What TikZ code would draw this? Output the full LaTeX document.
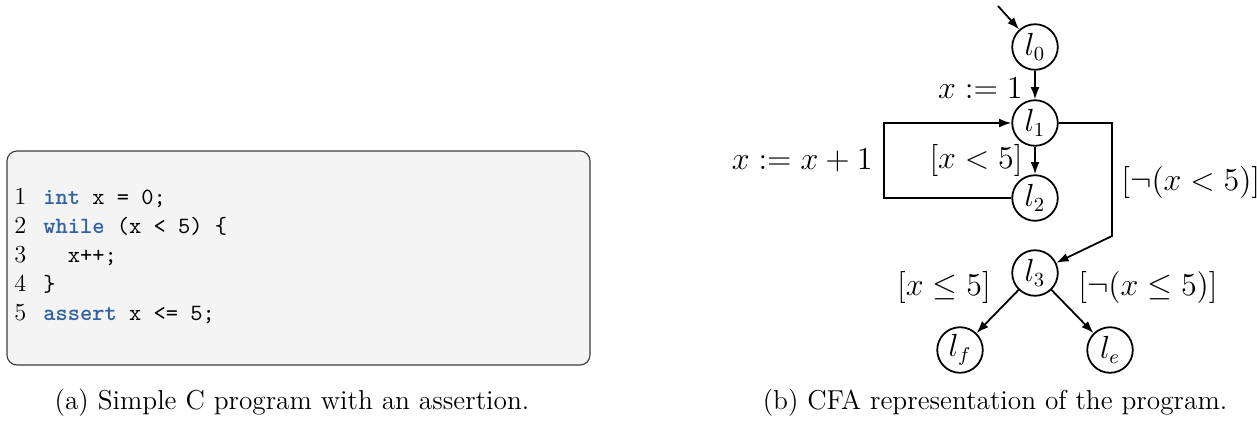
\documentclass[tikz,border=0pt]{standalone}
\usepackage{fontspec}
\usetikzlibrary{arrows.meta}
\definecolor{kwblue}{RGB}{50,96,160}
\definecolor{codebg}{RGB}{244,244,244}
\definecolor{codeborder}{RGB}{60,60,60}
\newcommand{\kwd}[1]{{\color{kwblue}\bfseries #1}}
\begin{document}
\begin{tikzpicture}[x=0.45pt,y=-0.45pt,
  state/.style={circle,draw,line width=0.8pt,minimum size=20.5pt,inner sep=0pt,font=\fontsize{13.4}{16}\selectfont},
  edge/.style={line width=0.8pt,-{Latex[length=5.5pt,width=4pt]}},
  lbl/.style={font=\fontsize{13.4}{16}\selectfont,inner sep=0pt},
  codeline/.style={anchor=base west,inner sep=0pt,font=\fontsize{10.5}{13}\selectfont\ttfamily\frenchspacing},
  lnum/.style={anchor=base west,inner sep=0pt,font=\fontsize{11}{13}\selectfont\rmfamily},
  captext/.style={font=\fontsize{12.3}{14}\selectfont,inner sep=0pt,anchor=base}]
\useasboundingbox (0,0) rectangle (1257,423);
% code box
\draw[codeborder, fill=codebg, rounded corners=4.5pt, line width=0.5pt] (7,151) rectangle (590,365);
\node[lnum] (n1) at (14,204) {1};
\node[lnum] (n2) at (14,233) {2};
\node[lnum] (n3) at (14,262) {3};
\node[lnum] (n4) at (14,291) {4};
\node[lnum] (n5) at (14,320) {5};
\node[codeline] (c1) at (43,204) {\kwd{int} x = 0;};
\node[codeline] (c2) at (43,233) {\kwd{while} (x < 5) \{};
\node[codeline] (c3) at (43,262) {\ \ x++;};
\node[codeline] (c4) at (43,291) {\}};
\node[codeline] (c5) at (43,320) {\kwd{assert} x <= 5;};
% CFA
\node[state] (l0) at (1035,47) {$l_0$};
\node[state] (l1) at (1035,123) {$l_1$};
\node[state] (l2) at (1035,198) {$l_2$};
\node[state] (l3) at (1035,273) {$l_3$};
\node[state] (lf) at (960,350) {$l_f$};
\node[state] (le) at (1110,350) {$l_e$};
\coordinate (start) at (998,6);
\coordinate (lb) at (884,198);
\coordinate (lt) at (884,123);
\coordinate (rt) at (1112,123);
\coordinate (rb) at (1112,236);
\draw[edge] (start) -- (l0);
\draw[edge] (l0) -- (l1);
\draw[edge] (l1) -- (l2);
\draw[edge] (l2.west) -- (lb) -- (lt) -- (l1.west);
\draw[edge] (l1.east) -- (rt) -- (rb) -- (l3);
\draw[edge] (l3) -- (lf);
\draw[edge] (l3) -- (le);
\node[lbl,anchor=east] (a1) at (1023,88) {$x := 1$};
\node[lbl,anchor=east] (a2) at (1023,160) {$[x < 5]$};
\node[lbl,anchor=east] (a3) at (873,160) {$x := x + 1$};
\node[lbl,anchor=west] (a4) at (1121,182) {$[\neg(x < 5)]$};
\node[lbl] (a5) at (944,287) {$[x \leq 5]$};
\node[lbl] (a6) at (1148,287) {$[\neg(x \leq 5)]$};
% captions
\node[captext] (capa) at (292,409) {(a) Simple C program with an assertion.};
\node[captext] (capb) at (995,409) {(b) CFA representation of the program.};
\end{tikzpicture}
\end{document}
